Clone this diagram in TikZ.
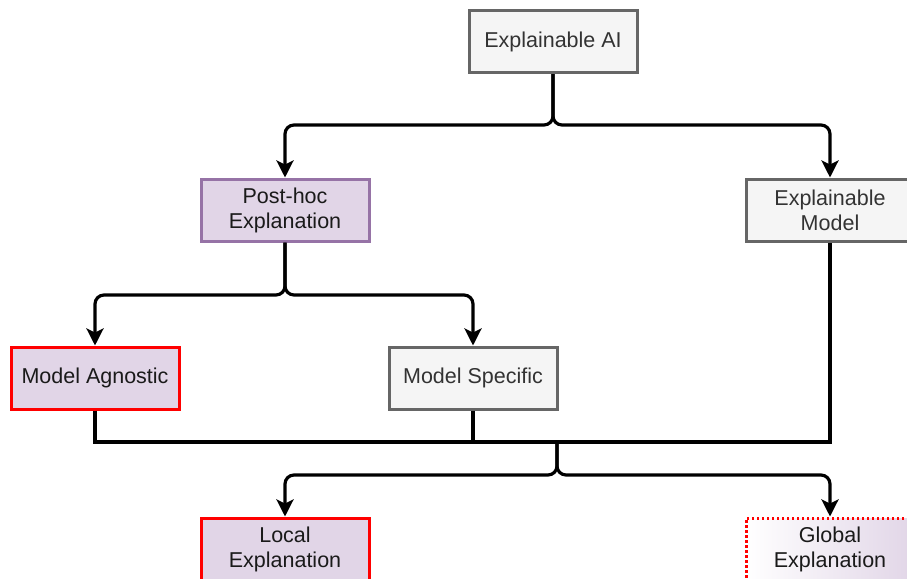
\documentclass[tikz,border=0pt]{standalone}
\usepackage{fontspec}
\setmainfont{Liberation Sans}
\usetikzlibrary{arrows.meta}

\definecolor{grayfill}{HTML}{F5F5F5}
\definecolor{grayline}{HTML}{666666}
\definecolor{grayText}{HTML}{333333}
\definecolor{purplefill}{HTML}{E1D5E7}
\definecolor{purpleline}{HTML}{9673A6}
\definecolor{redline}{HTML}{FF0000}
\definecolor{darkText}{HTML}{1A1A1A}

\tikzset{
  box/.style={minimum width=168pt, minimum height=62pt, inner sep=0pt,
    align=center, font=\fontsize{21.5}{25}\selectfont, line width=3pt},
  graybox/.style={box, draw=grayline, fill=grayfill, text=grayText},
  purplebox/.style={box, draw=purpleline, fill=purplefill, text=darkText},
  redbox/.style={box, draw=redline, fill=purplefill, text=darkText},
  dottedbox/.style={box, draw=redline, left color=white, right color=purplefill,
    text=darkText, dash pattern=on 2.5pt off 2.5pt},
  wire/.style={draw=black, line width=3.2pt},
  flow/.style={wire, rounded corners=9pt,
    -{Stealth[length=17pt, width=17pt, inset=4pt]}},
}

\begin{document}
\begin{tikzpicture}[x=1pt, y=-1pt]
\useasboundingbox (0,0) rectangle (907,578);

% boxes
\node[graybox]   (ai)     at (553,41.5) {Explainable AI};
\node[purplebox] (post)   at (285,210)  {Post-hoc\\Explanation};
\node[graybox]   (em)     at (830,210)  {Explainable\\Model};
\node[redbox]    (ma)     at (95,378)   {Model Agnostic};
\node[graybox]   (ms)     at (473,378)  {Model Specific};
\node[redbox]    (local)  at (285,549)  {Local\\Explanation};
\node[dottedbox] (global) at (830,549)  {Global\\Explanation};

% branch points
\coordinate (f1) at (553,125);
\coordinate (f2) at (285,295);
\coordinate (merge) at (557,442);
\coordinate (split) at (557,475);

% Explainable AI splits in two
\draw[flow] (ai.south) -- (ai.south |- f1) -| (post.north);
\draw[flow] (ai.south) -- (ai.south |- f1) -| (em.north);

% Post-hoc splits in two
\draw[flow] (post.south) -- (post.south |- f2) -| (ma.north);
\draw[flow] (post.south) -- (post.south |- f2) -| (ms.north);

% the three branches gather on one line
\draw[wire] (ma.south) -- (ma.south |- merge) -- (em.south |- merge) -- (em.south);
\draw[wire] (ms.south) -- (ms.south |- merge);

% and split again into local and global explanations
\draw[flow] (merge) -- (split) -| (local.north);
\draw[flow] (merge) -- (split) -| (global.north);
\end{tikzpicture}
\end{document}
